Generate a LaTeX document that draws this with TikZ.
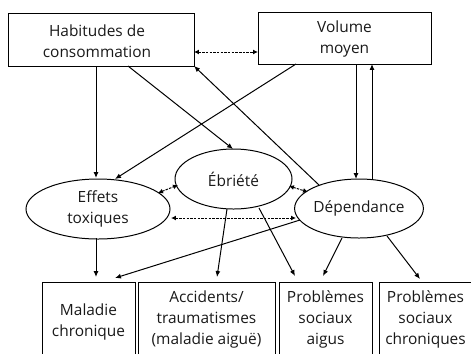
\documentclass[tikz,border=0pt]{standalone}
\usepackage{fontspec}
\setmainfont{Open Sans}
\usetikzlibrary{arrows.meta,shapes.geometric}
\begin{document}
\begin{tikzpicture}[x=1bp,y=-1bp,
  txt/.style={font=\fontsize{15.5}{21}\selectfont, align=center, text=black!90},
  box/.style={draw, line width=1pt},
  ell/.style={draw, ellipse, line width=1pt, inner sep=0pt},
  arr/.style={-{Latex[length=6pt,width=5pt]}, line width=1pt},
  darr/.style={{Latex[length=5pt,width=5pt]}-{Latex[length=5pt,width=5pt]}, line width=1pt, dash pattern=on 2.5pt off 1.2pt}]
\useasboundingbox (0,0) rectangle (471,353);
% top boxes
\draw[box] (8,13) rectangle (194,66);
\node[txt] (hab) at (97,41) {Habitudes de\\consommation};
\coordinate (habA) at (96,66);
\coordinate (habB) at (128,66);
\coordinate (habC) at (194,66);
\coordinate (habR) at (194,52);
\draw[box] (258,12) rectangle (431,64);
\node[txt] (vol) at (344.5,39) {Volume\\moyen};
\coordinate (volA) at (296,64);
\coordinate (volB) at (356,64);
\coordinate (volC) at (372,64);
\coordinate (volL) at (258,52);
% ellipses
\node[ell, txt, minimum width=144bp, minimum height=60bp] (eff) at (98,209) {Effets\\toxiques};
\node[ell, txt, minimum width=117bp, minimum height=60bp] (ebr) at (233.5,179) {Ébriété};
\node[ell, txt, minimum width=126bp, minimum height=59bp] (dep) at (359,208.5) {Dépendance};
% bottom boxes
\draw[box] (42,353.5) -- (42,282) -- (135,282) -- (135,353.5);
\node[txt, anchor=north] (mal) at (88.5,300) {Maladie\\chronique};
\draw[box] (138,353.5) -- (138,282) -- (275,282) -- (275,353.5);
\node[txt, anchor=north] (acc) at (206.5,287) {Accidents/\\traumatismes\\(maladie aiguë)};
\draw[box] (279,353.5) -- (279,282) -- (372,282) -- (372,353.5);
\node[txt, anchor=north] (psa) at (325.5,287) {Problèmes\\sociaux\\aigus};
\draw[box] (379,353.5) -- (379,282) -- (472,282);
\node[txt, anchor=north] (psc) at (425.5,287) {Problèmes\\sociaux\\chroniques};
% coordinates on shapes
\coordinate (effT) at (96,178);
\coordinate (effTR) at (115,179);
\coordinate (effB) at (96,238);
\coordinate (effD1) at (158,193);
\coordinate (effR) at (171,218);
\coordinate (ebrT) at (233,149);
\coordinate (ebrL) at (178,185);
\coordinate (ebrR) at (289,186);
\coordinate (ebrB1) at (227,209);
\coordinate (ebrB2) at (259,208);
\coordinate (depL1) at (308,192);
\coordinate (depL) at (296,218);
\coordinate (depL2) at (300,220);
\coordinate (depT1) at (356,179);
\coordinate (depT2) at (372,179);
\coordinate (depTL) at (319,185);
\coordinate (depB1) at (342,238);
\coordinate (depB2) at (387,236);
\coordinate (malT) at (96,277);
\coordinate (malT2) at (115,278);
\coordinate (accT) at (217,277);
\coordinate (psaT1) at (295,276);
\coordinate (psaT2) at (323,276);
\coordinate (pscT) at (420,279);
% solid arrows
\draw[arr] (habA) -- (effT);
\draw[arr] (habB) -- (ebrT);
\draw[arr] (volA) -- (effTR);
\draw[arr] (volB) -- (depT1);
\draw[arr] (depT2) -- (volC);
\draw[arr] (depTL) -- (habC);
\draw[arr] (effB) -- (malT);
\draw[arr] (depL2) -- (malT2);
\draw[arr] (ebrB1) -- (accT);
\draw[arr] (ebrB2) -- (psaT1);
\draw[arr] (depB1) -- (psaT2);
\draw[arr] (depB2) -- (pscT);
% dashed arrows
\draw[darr] (habR) -- (volL);
\draw[darr] (effD1) -- (ebrL);
\draw[darr] (ebrR) -- (depL1);
\draw[darr] (effR) -- (depL);
\end{tikzpicture}
\end{document}
